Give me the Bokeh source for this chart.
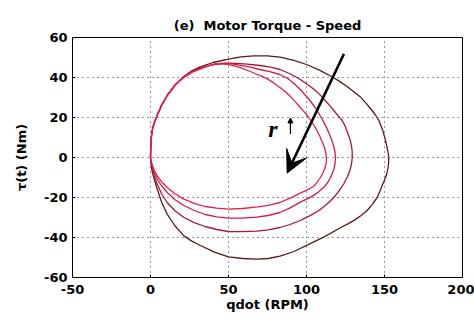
from bokeh.plotting import figure
from bokeh.models import Range1d, FixedTicker, Arrow, VeeHead, NormalHead, Label
from bokeh.embed import file_html
from bokeh.resources import INLINE

# ---- data (qdot in RPM, torque in Nm) ----
x_ticks = [-50, 0, 50, 100, 150, 200]
y_ticks = [-60, -40, -20, 0, 20, 40, 60]

# innermost loop
qdot_1 = [0, 0.1, 0.3, 0.8, 1.5, 2.7, 4.3, 7, 10.7, 15.5, 21.4, 26.5, 32, 37, 42, 46, 50, 54, 58, 62.5,
          67, 71, 75, 79, 83, 86.7, 90, 93, 96, 98.7, 101, 103.6, 106, 108.2, 110, 111.5, 112.5, 112.8,
          112.3, 111.5, 110.2, 108.5, 106.6, 104.5, 100.5, 96, 89.5, 83, 75.5, 68.5, 59, 50, 42.5, 35,
          28, 21.4, 15.5, 10.7, 7, 4.3, 2.2, 1, 0.3, 0]
torque_1 = [0, 4, 8, 12, 15, 18, 21, 26, 31, 36, 40, 42.5, 44.3, 45.8, 46.8, 46.8, 46.5, 45.8, 44.8, 43.5,
            42, 40.7, 39.3, 37.3, 35, 32.7, 30.3, 27.7, 25, 22.7, 20.5, 17.5, 14.5, 11.2, 8, 5, 2, -2,
            -4, -6, -8.3, -10.5, -12.6, -14.5, -16.2, -17.8, -20.3, -22.5, -23.9, -24.7, -25.5, -25.8, -25.3, -24.5,
            -22.9, -20.8, -18, -15, -12, -9.2, -6, -3.3, -1.5, 0]

# second loop
qdot_2 = [0, 0.1, 0.3, 0.8, 1.5, 2.7, 4.3, 7, 10.7, 15.5, 21.4, 26.5, 32, 38.5, 45, 51.5, 58, 64, 70,
          76.5, 83, 88, 92, 96, 100, 103.2, 106, 108.3, 110.5, 112.7, 114.5, 116, 117.3, 118.2, 118.6,
          118.3, 117.5, 116, 114, 111.3, 108, 104.8, 101.5, 96, 89.5, 83, 75.5, 68, 59, 50, 42.5, 35,
          28, 21.4, 15.5, 10.7, 7, 4.3, 2.2, 1, 0.3, 0]
torque_2 = [0, 4, 8, 12, 15, 18, 21, 26, 31, 36, 40.3, 42.8, 44.5, 46.2, 47, 46.9, 46.1, 45.2, 44,
            42.9, 41.5, 39.5, 37, 34, 30.5, 27.5, 24.5, 21.5, 18.5, 15.2, 12, 9, 6, 3, 0,
            -3, -6, -9, -12, -14.8, -17, -18.8, -20.3, -22.3, -25.2, -27.5, -29, -29.8, -30.3, -30.3, -29.7, -28.5,
            -26.5, -24, -21, -17.5, -14, -10.8, -7.2, -4, -1.8, 0]

# third loop
qdot_3 = [0, 0.1, 0.3, 0.8, 1.5, 2.7, 4.3, 7, 10.7, 15.5, 21.4, 26.5, 32, 40, 48, 55, 62, 70, 77, 83,
          89, 95, 100, 105, 108.7, 112, 115.2, 118, 120.6, 122.9, 125, 126.5, 127.9, 128.8, 129.3, 129.3,
          128.9, 128, 126.3, 124, 121, 117.5, 113, 108, 102, 96, 89.5, 83, 75.5, 68, 59, 50, 42.5, 35,
          28, 21.4, 15.5, 10.7, 7, 4.3, 2.2, 1, 0.3, 0]
torque_3 = [0, 4, 8, 12, 15, 18, 21, 26, 31, 36, 40.5, 43, 44.7, 46.5, 47.2, 47.1, 46.7, 46, 45.2, 44,
            42, 39.5, 36.9, 34, 31.3, 28.5, 25.7, 23, 20.6, 18.5, 15.3, 12, 9, 6, 3, 0,
            -3, -6, -9.5, -13, -16.6, -20, -23.4, -26.5, -29.2, -31.5, -33.5, -35, -36.2, -36.8, -37.1, -37, -36, -34.5,
            -32.6, -30, -26.5, -22.5, -18, -13.3, -8.8, -5, -2.2, 0]

# outermost loop
qdot_4 = [0, 0.1, 0.3, 0.8, 1.5, 2.7, 4.3, 7, 10.7, 15.5, 21.4, 26.5, 32, 40, 50, 58, 66, 75, 83, 92,
          100, 108, 116, 121, 126, 130.5, 134.6, 138, 141, 144, 146.4, 148.8, 150.5, 151.8, 152.8,
          152.5, 151.5, 150.2, 148.5, 147, 145.3, 142.3, 138.9, 135, 131, 126.5, 122, 111, 100.4, 92, 83,
          75.5, 68, 59, 50, 41, 32, 26.5, 21.4, 15.5, 10.7, 7.2, 4.3, 2.3, 1, 0.3, 0]
torque_4 = [0, 4, 8, 12, 15, 18, 21, 26, 31, 36, 40.5, 43.3, 45.3, 47.5, 49.2, 50.3, 50.8, 50.8, 50.2, 48.6,
            46.5, 43.8, 40.5, 38.2, 35.5, 32.8, 30.2, 27.3, 24.5, 21.5, 18.5, 13.8, 9, 4.5, 0,
            -4, -8, -11, -14, -17, -20, -23.3, -26.5, -29, -31.2, -33.2, -35, -39.8, -43.8, -47, -49.3,
            -50.5, -50.8, -50.5, -49.7, -47.3, -44, -41.8, -39.2, -34, -28.3, -22.5, -15.8, -10.5, -6.7, -3, 0]

loops = [(qdot_4, torque_4, "#5a1a1a"),
         (qdot_3, torque_3, "#a8182f"),
         (qdot_2, torque_2, "#d41c42"),
         (qdot_1, torque_1, "#e8204a")]

# annotation anchors (data units)
big_arrow_start = (124, 51.8)
big_arrow_end = (87.6, -7.8)
small_arrow_start = (89.7, 11.8)
small_arrow_end = (89.7, 19.8)
r_label_pos = (75.5, 14.5)

FONT = "DejaVu Sans"

p = figure(width=474, height=322,
           x_range=Range1d(-50, 200), y_range=Range1d(-60, 60),
           output_backend="svg", toolbar_location=None,
           min_border_left=72, min_border_right=12,
           min_border_top=37, min_border_bottom=45)
p.background_fill_color = "white"
p.border_fill_color = "white"
p.outline_line_color = "black"
p.outline_line_width = 1
p.outline_line_alpha = 1

p.title.text = "(e)\u00a0 Motor Torque - Speed"
p.title.align = "center"
p.title.text_font = FONT
p.title.text_font_size = "13px"
p.title.text_font_style = "bold"
p.title.text_color = "black"
p.title.offset = -18
p.title.standoff = 9

for ax in (p.xaxis[0], p.yaxis[0]):
    ax.major_label_text_font = FONT
    ax.major_label_text_font_size = "13px"
    ax.major_label_text_font_style = "bold"
    ax.major_label_text_color = "black"
    ax.axis_label_text_font = FONT
    ax.axis_label_text_font_size = "13px"
    ax.axis_label_text_font_style = "bold"
    ax.axis_label_text_color = "black"
    ax.axis_line_color = "black"
    ax.major_tick_in = 3
    ax.major_tick_out = 0
    ax.minor_tick_in = 0
    ax.minor_tick_out = 0
    ax.major_tick_line_color = "black"

p.xaxis.ticker = FixedTicker(ticks=x_ticks)
p.yaxis.ticker = FixedTicker(ticks=y_ticks)
p.xaxis.major_label_overrides = {t: str(t) for t in x_ticks}
p.yaxis.major_label_overrides = {t: str(t) for t in y_ticks}
p.xaxis.axis_label = "qdot (RPM)"
p.yaxis.axis_label = "\u03c4(t) (Nm)"
p.xaxis.major_label_standoff = 7
p.xaxis.axis_label_standoff = 0
p.yaxis.major_label_standoff = 5
p.yaxis.axis_label_standoff = 12

p.xgrid.ticker = FixedTicker(ticks=x_ticks)
p.ygrid.ticker = FixedTicker(ticks=y_ticks)
for g in (p.xgrid[0], p.ygrid[0]):
    g.grid_line_color = "black"
    g.grid_line_alpha = 0.8
    g.grid_line_dash = "1 4"
    g.grid_line_width = 1

for xs, ys, col in loops:
    p.line(xs, ys, line_color=col, line_width=1.3)

p.add_layout(Arrow(end=VeeHead(size=22, fill_color="black", line_color="black", line_width=1),
                   x_start=big_arrow_start[0], y_start=big_arrow_start[1],
                   x_end=big_arrow_end[0], y_end=big_arrow_end[1],
                   line_color="black", line_width=2.5))
p.add_layout(Arrow(end=NormalHead(size=5, fill_color="black", line_color="black", line_width=1),
                   x_start=small_arrow_start[0], y_start=small_arrow_start[1],
                   x_end=small_arrow_end[0], y_end=small_arrow_end[1],
                   line_color="black", line_width=1.2))
p.add_layout(Label(x=r_label_pos[0], y=r_label_pos[1], text="r",
                   text_font="Liberation Serif", text_font_style="bold italic",
                   text_font_size="24px", text_baseline="alphabetic", text_color="black"))

open("out.html", "w").write(file_html(p, INLINE))
